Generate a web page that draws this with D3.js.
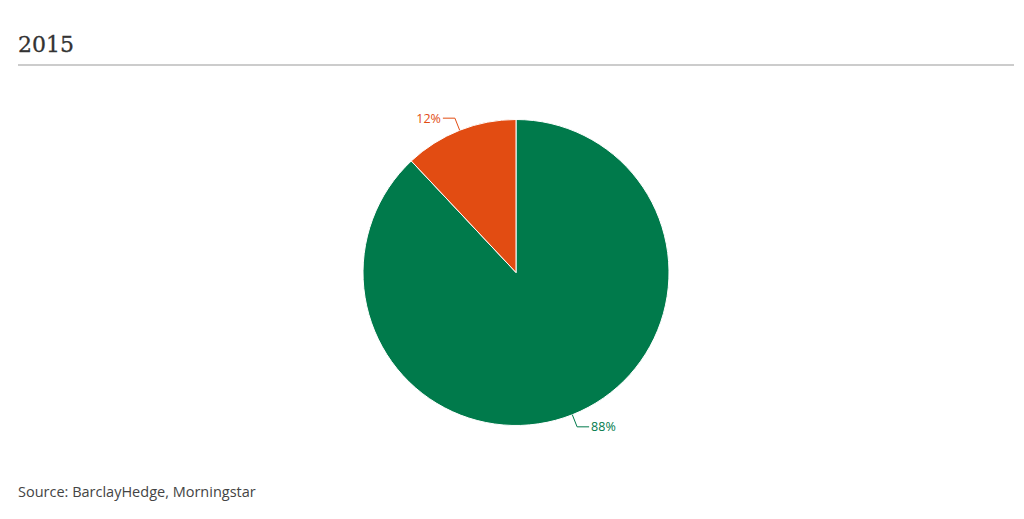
<!DOCTYPE html>
<html>
<head>
<meta charset="utf-8">
<script src="https://cdn.jsdelivr.net/npm/d3@7"></script>
<style>
  body { margin: 0; background: #fff; }
</style>
</head>
<body>
<div id="pie"></div>
<script>
var labels = ["88%", "12%"];
var values = [88, 12];
var colors = ["#007a4b", "#e24c12"];
var title = "2015";
var source = "Source: BarclayHedge, Morningstar";

function createPie() {
    var width = 1024,
        height = 519,
        radius = 153,
        cx = 516,
        cy = 272.5;

    var svg = d3.select("div#pie")
        .append("svg")
        .attr("width", width)
        .attr("height", height);

    svg.append("text")
        .text(title)
        .attr("x", 18)
        .attr("y", 52)
        .attr("font-family", "DejaVu Serif")
        .attr("font-size", "22px")
        .attr("fill", "#333")
        .attr("stroke", "#333")
        .attr("stroke-width", 0.3);

    svg.append("rect")
        .attr("x", 18)
        .attr("y", 64)
        .attr("width", 996)
        .attr("height", 2)
        .attr("fill", "#cccccc");

    svg.append("text")
        .text(source)
        .attr("x", 18)
        .attr("y", 497)
        .attr("font-family", "Open Sans")
        .attr("font-size", "14.5px")
        .attr("fill", "#444");

    var g = svg.append("g").attr("transform", "translate(" + cx + "," + cy + ")");

    var pie = d3.pie().sort(null);

    var arc = d3.arc()
        .innerRadius(0)
        .outerRadius(radius);

    var arcs = g.selectAll("g.arc")
        .data(pie(values))
        .enter()
        .append("g")
        .attr("class", "arc");

    arcs.append("path")
        .attr("fill", function(d, i) { return colors[i]; })
        .attr("stroke", "#fff")
        .attr("stroke-width", 1)
        .attr("d", arc);

    // connectors + labels
    arcs.each(function(d, i) {
        var mid = (d.startAngle + d.endAngle) / 2;
        var sx = Math.sin(mid), sy = -Math.cos(mid);
        var p0 = [sx * radius, sy * radius];
        var p1 = [sx * (radius + 13), sy * (radius + 13)];
        var dir = sx < 0 ? -1 : 1;
        var p2 = [p1[0] + dir * 12, p1[1]];
        d3.select(this).append("path")
            .attr("d", d3.line()([p0, p1, p2]))
            .attr("fill", "none")
            .attr("stroke", colors[i])
            .attr("stroke-width", 1);
        d3.select(this).append("text")
            .text(labels[i])
            .attr("x", p2[0] + dir * 2)
            .attr("y", p2[1])
            .attr("dy", "0.35em")
            .attr("text-anchor", dir < 0 ? "end" : "start")
            .attr("font-family", "Open Sans")
            .attr("font-size", "12.5px")
            .attr("fill", colors[i]);
    });
}

createPie();
</script>
</body>
</html>
